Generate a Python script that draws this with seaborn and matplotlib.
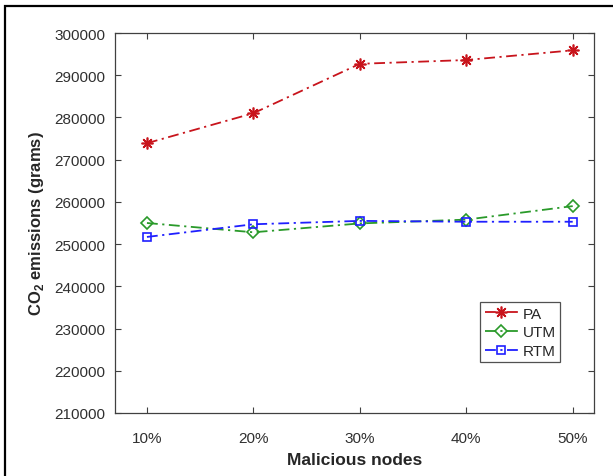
import matplotlib
matplotlib.use('Agg')
import matplotlib.pyplot as plt
import seaborn as sns
import pandas as pd
from matplotlib.patches import Rectangle

# data
nodes = [1, 2, 3, 4, 5]
node_labels = ['10%', '20%', '30%', '40%', '50%']
pa = [273900, 281000, 292700, 293600, 295900]
utm = [255000, 252800, 254900, 255800, 259000]
rtm = [251700, 254700, 255500, 255300, 255300]

sns.set_style('white')
plt.rcParams['font.family'] = ['Liberation Sans', 'DejaVu Sans']
plt.rcParams['mathtext.fontset'] = 'custom'
plt.rcParams['mathtext.rm'] = 'Liberation Sans'
plt.rcParams['mathtext.bf'] = 'Liberation Sans:bold'

fig = plt.figure(figsize=(6.13, 4.77), dpi=100)
ax = fig.add_axes([115 / 613, 1 - 414 / 477, (594 - 115) / 613, (414 - 34) / 477])

# outer frame (only left/top visible in the reference)
fig.patches.append(Rectangle((5 / 613, -0.1), 1.2, 1 - 7 / 477 + 0.1,
                             transform=fig.transFigure, fill=False,
                             edgecolor='black', linewidth=1.6))

df = pd.DataFrame({'x': nodes * 3, 'y': pa + utm + rtm,
                   'method': ['PA'] * 5 + ['UTM'] * 5 + ['RTM'] * 5})

styles = {
    'PA': dict(color='#c8141c', marker=(8, 2, 0), ms=8.5),
    'UTM': dict(color='#2a9a2a', marker='D', ms=6.5),
    'RTM': dict(color='#1f1fff', marker='s', ms=6),
}
for name, st in styles.items():
    sub = df[df['method'] == name]
    sns.lineplot(data=sub, x='x', y='y', ax=ax, color=st['color'], label=name,
                 marker=st['marker'], markersize=st['ms'], mfc='none',
                 mec=st['color'], mew=1.2, linewidth=1.3,
                 linestyle=(0, (6, 2.5, 1.2, 2.5)))

ax.set_xlim(0.7, 5.2)
ax.set_ylim(210000, 300000)
ax.set_xticks(nodes)
ax.set_xticklabels(node_labels)
ax.set_yticks(range(210000, 300001, 10000))
ax.tick_params(direction='in', length=4, width=0.8, colors='#404040',
               labelsize=11, labelcolor='#303030', top=True, right=True,
               left=True, bottom=True, pad=7)
ax.tick_params(axis='x', pad=13)
for sp in ax.spines.values():
    sp.set_color('#404040')
    sp.set_linewidth(0.9)

ax.set_xlabel('Malicious nodes', fontsize=12.5, fontweight='bold', labelpad=5)
ax.set_ylabel(r'CO$_\mathbf{2}$ emissions (grams)', fontsize=12,
              fontweight='bold', labelpad=6)

leg = ax.legend(loc='lower left', bbox_to_anchor=(0.762, 0.133),
                fancybox=False, edgecolor='#262626', fontsize=11,
                handlelength=2.2, borderpad=0.3, labelspacing=0.3,
                handletextpad=0.3, borderaxespad=0)
leg.get_frame().set_linewidth(0.9)

fig.savefig('out.png', dpi=100)
